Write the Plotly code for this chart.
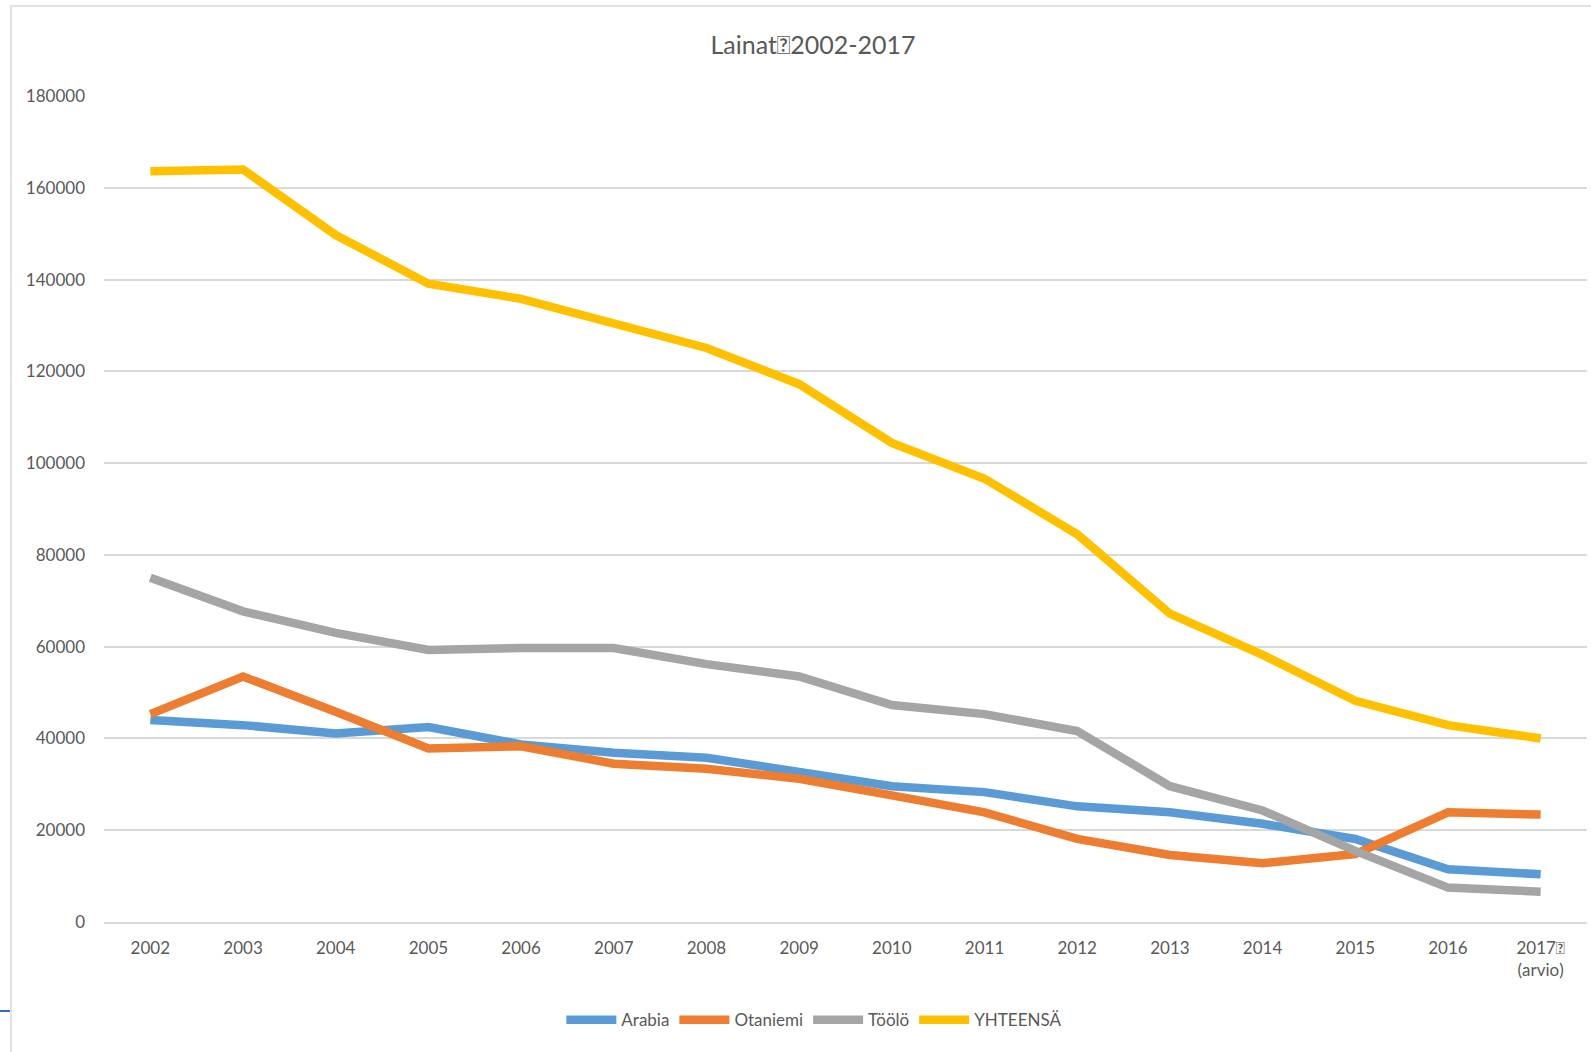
import plotly.graph_objects as go

years = ["2002", "2003", "2004", "2005", "2006", "2007", "2008", "2009",
         "2010", "2011", "2012", "2013", "2014", "2015", "2016", "2017\ue000<br>(arvio)"]

arabia = [44000, 42900, 41100, 42500, 38700, 36900, 35800, 32900,
          29600, 28300, 25200, 23900, 21400, 18100, 11500, 10400]
otaniemi = [45300, 53500, 45800, 37800, 38300, 34500, 33400, 31200,
            27600, 23900, 18100, 14600, 12800, 14800, 23900, 23400]
toolo = [75000, 67700, 63000, 59300, 59700, 59700, 56200, 53500,
         47300, 45300, 41600, 29600, 24300, 15500, 7500, 6600]
yhteensa = [163600, 164000, 149700, 139100, 135800, 130400, 125100, 117200,
            104400, 96600, 84500, 67200, 58200, 48200, 42900, 40000]

series = [("Arabia", arabia, "#5b9bd5"),
          ("Otaniemi", otaniemi, "#ed7d31"),
          ("Töölö", toolo, "#a5a5a5"),
          ("YHTEENSÄ", yhteensa, "#ffc000")]

font_family = "Lato, 'Open Sans', sans-serif"
grey = "#595959"

fig = go.Figure()
for name, vals, col in series:
    fig.add_trace(go.Scatter(x=years, y=vals, name=name, mode="lines",
                             line=dict(color=col, width=8.5)))

fig.update_layout(
    width=1591, height=1052,
    margin=dict(l=104, r=4, t=96, b=130),
    paper_bgcolor="white", plot_bgcolor="white",
    font=dict(family=font_family, color=grey, size=17),
    title=dict(text="Lainat\ue0002002-2017", x=0.511, xanchor="center",
               y=1 - 45 / 1052, yanchor="middle",
               font=dict(size=25, color=grey, family=font_family)),
    showlegend=True,
    legend=dict(orientation="h", x=0.479, xanchor="center", y=-0.119, yanchor="middle",
                font=dict(size=17, color=grey), itemwidth=50, traceorder="normal"),
    xaxis=dict(type="category", range=[-0.5, 15.5], showgrid=False, showline=True,
               linecolor="#d9d9d9", linewidth=1.5, ticks="",
               tickfont=dict(size=17, color=grey),
               ticklabelstandoff=10, zeroline=False),
    yaxis=dict(range=[0, 180000], tickvals=list(range(0, 180001, 20000)),
               showgrid=True, gridcolor="#d9d9d9", gridwidth=1.5, ticks="",
               tickformat="d", tickfont=dict(size=17, color=grey),
               ticklabelstandoff=18, zeroline=False, showline=False),
    shapes=[
        dict(type="rect", xref="paper", yref="paper",
             x0=(11 - 104) / 1483, x1=1.02, y0=-0.2, y1=(922 - 6) / 826,
             line=dict(color="#d9d9d9", width=1.5), fillcolor="rgba(0,0,0,0)", layer="below"),
        dict(type="line", xref="paper", yref="paper",
             x0=(0 - 104) / 1483, x1=(10 - 104) / 1483,
             y0=(922 - 1011) / 826, y1=(922 - 1011) / 826,
             line=dict(color="#2f6fbf", width=2)),
    ],
)

fig.write_html("out.html")
